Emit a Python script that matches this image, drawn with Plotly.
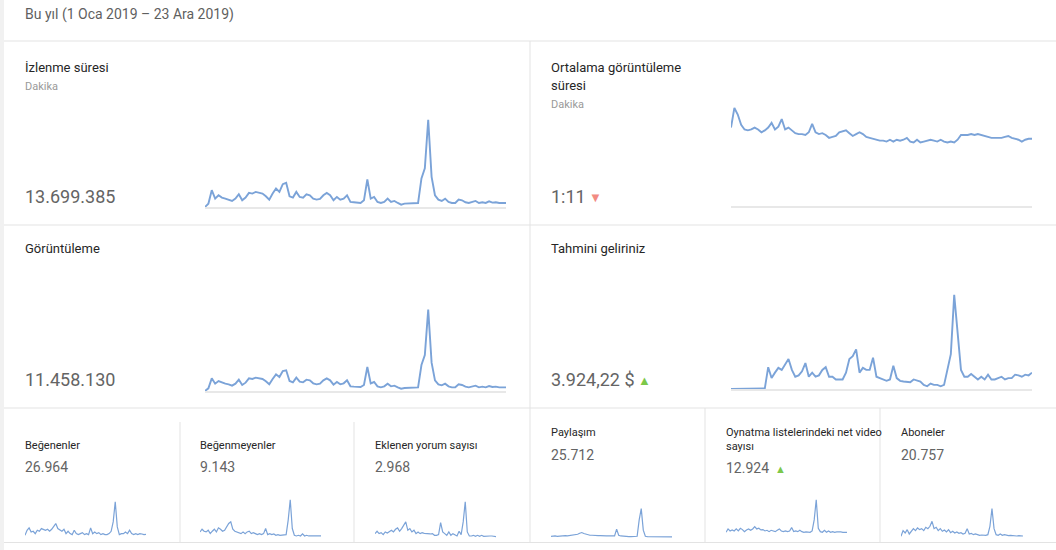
import plotly.graph_objects as go

W, H = 1056, 550

# gün numaraları (1 Oca = 0 ... 23 Ara = 356)
gun_buyuk = list(range(0, 357, 4))
gun_kucuk = list(range(0, 355, 6))

# büyük kartlar
izlenme_suresi = [0, 10, 50, 25, 35, 28, 25, 22, 18, 25,
                  38, 20, 28, 42, 40, 45, 42, 40, 32, 22,
                  40, 55, 45, 68, 72, 32, 28, 45, 30, 28,
                  38, 35, 25, 22, 24, 35, 42, 35, 20, 30,
                  22, 25, 35, 15, 14, 13, 12, 20, 82, 25,
                  30, 15, 12, 15, 25, 15, 18, 12, 7, 10,
                  10, 10, 10, 12, 85, 115, 260, 90, 35, 22,
                  18, 25, 15, 12, 12, 22, 20, 14, 12, 15,
                  18, 12, 14, 12, 17, 13, 14, 12, 12, 12]
ortalama_sure = [84, 105, 98, 87, 82, 81, 82, 84, 82, 79,
                 81, 84, 89, 82, 85, 93, 82, 84, 81, 78,
                 77, 77, 76, 79, 88, 79, 77, 78, 76, 73,
                 74, 75, 79, 80, 81, 78, 75, 77, 79, 77,
                 74, 73, 72, 71, 70, 70, 69, 71, 69, 71,
                 70, 71, 73, 69, 68, 71, 68, 69, 70, 71,
                 70, 69, 71, 69, 68, 69, 68, 71, 76, 76,
                 76, 77, 76, 77, 76, 75, 74, 73, 73, 73,
                 73, 74, 75, 73, 72, 71, 69, 71, 72, 72]
goruntuleme = [0, 8, 38, 22, 30, 25, 22, 20, 16, 22,
               34, 18, 25, 38, 36, 40, 38, 36, 29, 20,
               36, 50, 42, 60, 62, 30, 26, 40, 28, 26,
               34, 32, 23, 20, 22, 32, 38, 32, 19, 27,
               20, 23, 32, 14, 13, 12, 12, 18, 72, 23,
               27, 14, 11, 14, 22, 14, 16, 11, 7, 9,
               9, 9, 9, 11, 78, 108, 244, 85, 32, 20,
               17, 22, 14, 11, 11, 20, 18, 13, 11, 14,
               16, 11, 13, 11, 15, 12, 13, 11, 11, 11]
tahmini_gelir = [0, 0, 0, 0, 0, 0, 0.5, 0.5, 0.5, 0.3,
                 0.5, 16, 8, 12, 15.5, 14, 18, 22, 14, 9,
                 10, 13, 19, 9, 12, 9, 10, 14, 16, 9,
                 9, 7, 7, 7, 12, 22, 24, 29, 12, 15.5,
                 14, 14, 23, 9, 8, 7, 6, 7, 17, 8,
                 6, 5.5, 5.5, 5, 7, 6, 5.5, 3, 2, 4,
                 3, 3, 2, 3, 14, 25.5, 69, 42, 14, 9,
                 9, 11, 9, 7, 9, 7, 10.5, 7, 7, 8,
                 9, 7, 8, 8, 10.5, 10, 9, 10.5, 10, 12]

# küçük kartlar
begenenler = [8, 23, 30, 18, 20, 13, 23, 20, 28, 26,
              23, 26, 20, 26, 36, 43, 28, 23, 20, 26,
              13, 20, 13, 10, 23, 13, 10, 13, 16, 10,
              13, 10, 30, 13, 18, 13, 16, 10, 13, 10,
              10, 13, 20, 48, 108, 33, 10, 13, 13, 18,
              13, 23, 13, 10, 13, 10, 13, 12, 10, 11]
begenmeyenler = [18, 26, 20, 18, 23, 13, 20, 26, 18, 30,
                 26, 20, 23, 33, 43, 48, 26, 20, 18, 16,
                 13, 18, 13, 18, 20, 13, 16, 13, 10, 13,
                 10, 13, 28, 10, 13, 10, 12, 8, 10, 8,
                 8, 8, 10, 53, 113, 28, 8, 6, 8, 6,
                 12, 6, 8, 6, 6, 5, 6, 5, 6, 6]
yorumlar = [13, 20, 13, 16, 10, 18, 15, 20, 23, 18,
            26, 30, 20, 28, 38, 48, 23, 28, 18, 23,
            13, 18, 13, 16, 14, 13, 14, 12, 13, 8,
            8, 10, 46, 18, 13, 8, 18, 8, 13, 10,
            6, 20, 10, 48, 108, 18, 6, 6, 8, 5,
            8, 5, 8, 5, 6, 5, 6, 6, 5, 4]
paylasim = [5, 6, 6, 5, 6, 6, 6, 7, 6, 7,
            8, 8, 9, 11, 14, 16, 13, 11, 9, 8,
            8, 7, 8, 7, 7, 6, 7, 6, 6, 6,
            5, 6, 26, 8, 6, 5, 5, 5, 4, 4,
            4, 4, 5, 53, 86, 23, 5, 4, 4, 4,
            4, 4, 3, 4, 4, 3, 4, 3, 3, 3]
oynatma_listeleri = [14, 24, 18, 21, 18, 24, 18, 26, 22, 16,
                     21, 24, 20, 24, 31, 24, 26, 21, 22, 18,
                     20, 16, 20, 18, 16, 20, 24, 18, 16, 18,
                     16, 18, 28, 16, 18, 16, 20, 16, 14, 15,
                     14, 14, 18, 51, 111, 26, 16, 14, 20, 14,
                     18, 14, 16, 14, 15, 16, 15, 14, 15, 14]
aboneler = [5, 22, 15, 25, 12, 20, 28, 22, 30, 25,
            28, 22, 32, 28, 35, 50, 28, 32, 22, 28,
            20, 24, 18, 25, 16, 20, 15, 18, 14, 16,
            12, 14, 28, 12, 14, 10, 12, 10, 8, 9,
            8, 8, 10, 35, 88, 28, 10, 8, 12, 8,
            10, 8, 7, 8, 7, 8, 6, 7, 6, 6]

BLUE = "#7ba3d8"
FONT = "Roboto"


def px(x):
    return x / W


def py(y):
    return 1 - y / H


# (x verisi, y verisi, sol, sağ, taban, tepe, çizgi kalınlığı, taban çizgisi)
paneller = [
    (gun_buyuk, izlenme_suresi, 205, 506, 207, 118, 1.9, True),
    (gun_buyuk, ortalama_sure, 731, 1032, 206, 106, 1.9, True),
    (gun_buyuk, goruntuleme, 205, 506, 391, 308, 1.9, True),
    (gun_buyuk, tahmini_gelir, 731, 1032, 389, 293, 1.9, True),
    (gun_kucuk, begenenler, 25, 146, 538, 501, 1.2, False),
    (gun_kucuk, begenmeyenler, 200, 321, 538, 499, 1.2, False),
    (gun_kucuk, yorumlar, 375, 496, 538, 501, 1.2, False),
    (gun_kucuk, paylasim, 551, 672, 538, 508, 1.2, False),
    (gun_kucuk, oynatma_listeleri, 726, 847, 537, 499, 1.2, False),
    (gun_kucuk, aboneler, 901, 1023, 538, 508, 1.2, False),
]

fig = go.Figure()
layout_axes = {}
for i, (xs, ys, x0, x1, yb, yt, lw, taban) in enumerate(paneller):
    n = "" if i == 0 else str(i + 1)
    fig.add_trace(go.Scatter(x=xs, y=ys, mode="lines",
                             line=dict(color=BLUE, width=lw),
                             xaxis="x" + n, yaxis="y" + n,
                             hoverinfo="skip"))
    layout_axes["xaxis" + n] = dict(domain=[px(x0), px(x1)], range=[xs[0], xs[-1]],
                                   anchor="y" + n, showgrid=False, zeroline=False,
                                   showticklabels=False, ticks="",
                                   showline=taban, linecolor="#e8e8e8", linewidth=1.5,
                                   fixedrange=True)
    layout_axes["yaxis" + n] = dict(domain=[py(yb), py(yt)], range=[0, max(ys) * 1.02],
                                   anchor="x" + n, visible=False, fixedrange=True)

fig.update_layout(**layout_axes)

# kart çizgileri
GRID = "#e3e3e3"
shapes = [dict(type="rect", xref="paper", yref="paper", x0=0, x1=px(4), y0=0, y1=1,
               fillcolor="#f1f1f1", line_width=0, layer="below")]
for y in [41, 225, 408, 542.5]:
    shapes.append(dict(type="line", xref="paper", yref="paper", x0=px(4), x1=1,
                       y0=py(y), y1=py(y), line=dict(color=GRID, width=1)))
for x, y0, y1 in [(530, 41, 542.5), (180, 422, 542.5), (354, 422, 542.5),
                  (705, 408, 542.5), (880, 408, 542.5)]:
    shapes.append(dict(type="line", xref="paper", yref="paper", x0=px(x), x1=px(x),
                       y0=py(y0), y1=py(y1), line=dict(color=GRID, width=1)))

annotations = []


def yazi(x, y, text, size, color):
    annotations.append(dict(x=px(x), y=py(y), xref="paper", yref="paper", text=text,
                            showarrow=False, xanchor="left", yanchor="middle", align="left",
                            font=dict(family=FONT, size=size, color=color)))


BASLIK = "#262626"
SAYI = "#646464"
SOLUK = "#9a9a9a"

yazi(22.5, 15, "Bu yıl (1 Oca 2019 – 23 Ara 2019)", 14, "#5f5f5f")

yazi(23, 67, "İzlenme süresi", 13, BASLIK)
yazi(23, 86, "Dakika", 11, SOLUK)
yazi(22.5, 196, "13.699.385", 18, SAYI)

yazi(549, 67, "Ortalama görüntüleme", 13, BASLIK)
yazi(549, 85, "süresi", 13, BASLIK)
yazi(549, 104, "Dakika", 11, SOLUK)
yazi(548.5, 196, "1:11", 18, SAYI)
yazi(587, 197, "▼", 13, "#f28b82")

yazi(23, 249, "Görüntüleme", 13, BASLIK)
yazi(22.5, 379, "11.458.130", 18, SAYI)

yazi(549, 249, "Tahmini geliriniz", 13, BASLIK)
yazi(548.5, 379, "3.924,22 $", 18, SAYI)
yazi(636, 380, "▲", 13, "#7cc84a")

yazi(23, 445, "Beğenenler", 11, BASLIK)
yazi(23, 467, "26.964", 14, SAYI)
yazi(198, 445, "Beğenmeyenler", 11, BASLIK)
yazi(198, 467, "9.143", 14, SAYI)
yazi(373, 445, "Eklenen yorum sayısı", 11, BASLIK)
yazi(373, 467, "2.968", 14, SAYI)

yazi(549, 432, "Paylaşım", 11, BASLIK)
yazi(549, 455, "25.712", 14, SAYI)
yazi(724, 432, "Oynatma listelerindeki net video", 11, BASLIK)
yazi(724, 446, "sayısı", 11, BASLIK)
yazi(724, 468, "12.924", 14, SAYI)
yazi(773, 469, "▲", 11, "#7cc84a")
yazi(899, 432, "Aboneler", 11, BASLIK)
yazi(899, 455, "20.757", 14, SAYI)

fig.update_layout(width=W, height=H, margin=dict(l=0, r=0, t=0, b=0),
                  paper_bgcolor="white", plot_bgcolor="white", showlegend=False,
                  shapes=shapes, annotations=annotations)

fig.write_html("out.html", config={"displayModeBar": False},
               post_script="document.body.style.margin='0px';document.body.style.overflow='hidden';")
